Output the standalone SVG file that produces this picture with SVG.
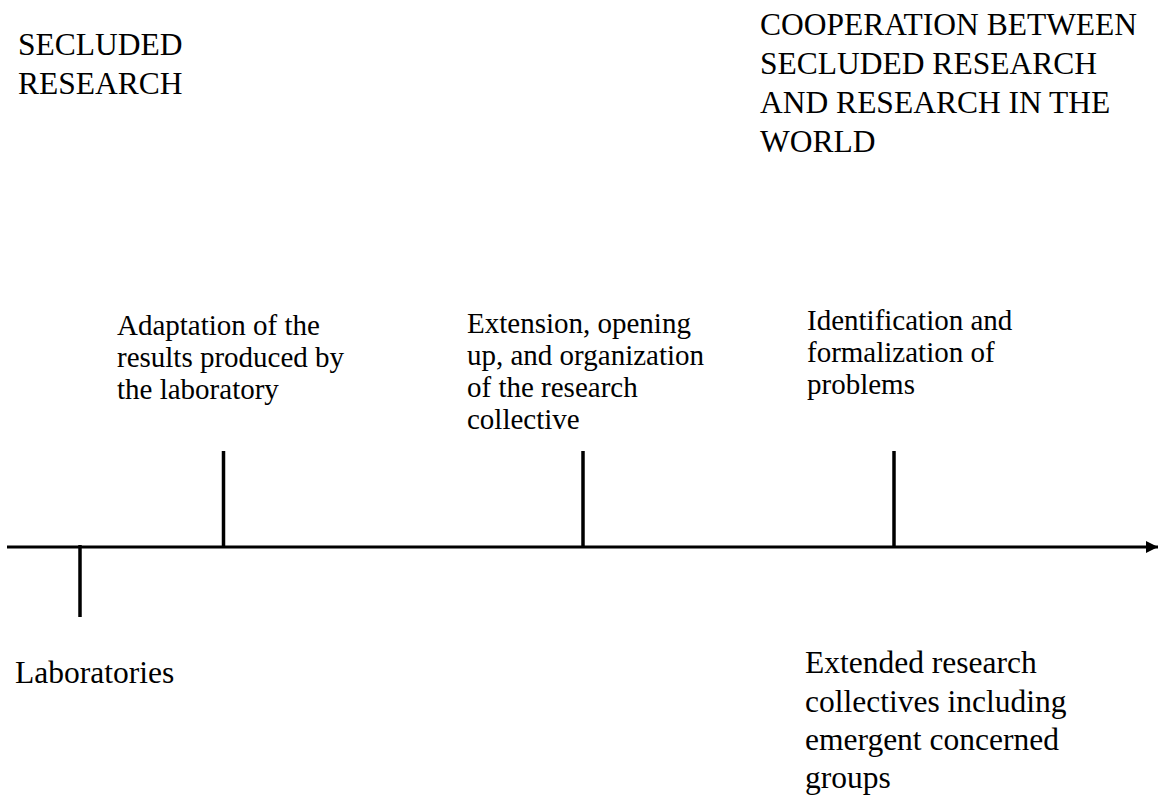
<svg xmlns="http://www.w3.org/2000/svg" width="1159" height="802" viewBox="0 0 1159 802">
<style>
text{font-family:"Liberation Serif","Times New Roman",serif;fill:#000}
.big{font-size:31.5px}
.mid{font-size:29px}
.ln{stroke:#000;stroke-width:3;fill:none}
.tk{stroke:#000;stroke-width:3.5;fill:none}
</style>
<defs>
<marker id="arr" markerUnits="userSpaceOnUse" markerWidth="12" markerHeight="12" refX="12" refY="6" orient="auto">
<path d="M0,0 L12,6 L0,12 Z" fill="#000"/>
</marker>
</defs>
<rect width="1159" height="802" fill="#fff"/>
<g id="connectors">
<line class="ln" x1="7" y1="547" x2="1158" y2="547" marker-end="url(#arr)"/>
<line class="tk" x1="80" y1="545" x2="80" y2="617"/>
<line class="tk" x1="223.5" y1="451" x2="223.5" y2="547"/>
<line class="tk" x1="583" y1="451" x2="583" y2="547"/>
<line class="tk" x1="894" y1="451" x2="894" y2="547"/>
</g>
<g id="secluded">
<text class="big" x="18" y="55">SECLUDED</text>
<text class="big" x="18" y="94">RESEARCH</text>
</g>
<g id="cooperation">
<text class="big" x="760" y="35">COOPERATION BETWEEN</text>
<text class="big" x="760" y="74">SECLUDED RESEARCH</text>
<text class="big" x="760" y="113">AND RESEARCH IN THE</text>
<text class="big" x="760" y="152">WORLD</text>
</g>
<g id="adaptation">
<text class="mid" x="117" y="335">Adaptation of the</text>
<text class="mid" x="117" y="367">results produced by</text>
<text class="mid" x="117" y="399">the laboratory</text>
</g>
<g id="extension">
<text class="mid" x="467" y="333">Extension, opening</text>
<text class="mid" x="467" y="365">up, and organization</text>
<text class="mid" x="467" y="397">of the research</text>
<text class="mid" x="467" y="429">collective</text>
</g>
<g id="identification">
<text class="mid" x="807" y="330">Identification and</text>
<text class="mid" x="807" y="362">formalization of</text>
<text class="mid" x="807" y="394">problems</text>
</g>
<g id="laboratories">
<text class="big" x="15" y="683">Laboratories</text>
</g>
<g id="extended">
<text class="big" x="805" y="673">Extended research</text>
<text class="big" x="805" y="712">collectives including</text>
<text class="big" x="805" y="750">emergent concerned</text>
<text class="big" x="805" y="788">groups</text>
</g>
</svg>
